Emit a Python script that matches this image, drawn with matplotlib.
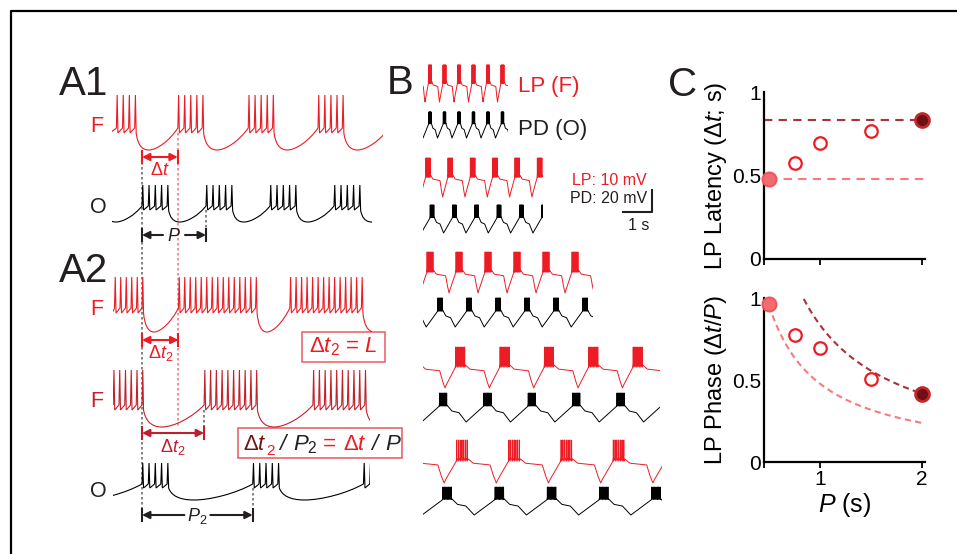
import numpy as np
import matplotlib
matplotlib.use('Agg')
import matplotlib.pyplot as plt
from matplotlib.path import Path
from matplotlib.patches import PathPatch, Rectangle

plt.rcParams['font.family'] = ['Liberation Sans', 'DejaVu Sans']
plt.rcParams['mathtext.fontset'] = 'custom'
plt.rcParams['mathtext.rm'] = 'Liberation Sans'
plt.rcParams['mathtext.it'] = 'Liberation Sans:italic'
plt.rcParams['mathtext.bf'] = 'Liberation Sans:bold'

RED = '#ED1C24'
RED2 = '#C4202A'
MAROON = '#701418'
INK = '#231F20'
GREY = '#6D6E71'
PINK = '#F47C80'

# ---------------- A: schematic bursts, times in s from the first O burst
A_ISI = {'F1': 0.095, 'O': 0.098, 'F2a': 0.086, 'F2b': 0.090}
A1_F_onsets = [-0.40, 0.56, 1.66, 2.75, 3.86]
A1_F_nspk = [4, 5, 5, 5, 5]
A1_O_onsets = [-1.0, 0.0, 1.0, 2.0, 3.0, 4.0]
A1_O_nspk = [5, 5, 5, 5, 5, 5]
A2_Fa_onsets = [-0.43, 0.57, 2.31, 4.05]
A2_Fa_nspk = [6, 15, 14, 14]
A2_Fb_onsets = [-0.45, 0.97, 2.67, 4.40]
A2_Fb_nspk = [6, 10, 10, 10]
A2_O_onsets = [-1.73, 0.0, 1.73, 3.46]
A2_O_nspk = [5, 5, 5, 5]

# ---------------- B: recorded LP / PD pairs at five periods
B_period = [0.5, 0.77, 1.0, 1.53, 1.8]
B_dur = [2.93, 4.14, 5.86, 8.17, 8.24]
B_lp_peak = [0.24, 0.17, 0.24, 1.28, 1.34]
B_pd_peak = [0.24, 0.31, 0.59, 0.69, 0.83]

# ---------------- C: LP latency and phase vs period
P_vals = [0.5, 0.75, 1.0, 1.5, 2.0]
latency = [0.48, 0.58, 0.70, 0.77, 0.84]
phase = [0.97, 0.78, 0.70, 0.51, 0.42]

fig = plt.figure(figsize=(9.57, 5.54), dpi=100)
ov = fig.add_axes([0, 0, 1, 1])
ov.set_xlim(0, 957)
ov.set_ylim(554, 0)
ov.axis('off')

# frame lines (top and left)
ov.plot([11, 11, 957], [554, 11, 11], color='black', lw=1.6, clip_on=False)

A_X0, A_PX = 142, 64.0


def ax_t(t):
    return A_X0 + A_PX * np.asarray(t)


def burst_path(onsets, nspk, isi, t0, rise, top, dip, w=0.012):
    verts, codes = [], []
    if t0 < onsets[0]:
        verts += [(t0, rise * 0.3), (onsets[0], rise)]
        codes += [Path.MOVETO, Path.LINETO]
    else:
        verts.append((onsets[0], rise))
        codes.append(Path.MOVETO)
    for i, (o, n) in enumerate(zip(onsets, nspk)):
        for j in range(n):
            ts = o + j * isi
            if j > 0:
                verts.append((ts, rise))
                codes.append(Path.LINETO)
            verts += [(ts + w, top), (ts + 2 * w, 0)]
            codes += [Path.LINETO, Path.LINETO]
        if i + 1 < len(onsets):
            a = o + (n - 1) * isi + 2 * w
            b = onsets[i + 1]
            g = b - a
            verts += [(a + 0.03 * g, -0.6 * dip), (a + 0.12 * g, -dip), (a + 0.3 * g, -dip),
                      (a + 0.5 * g, -dip), (a + 0.8 * g, -0.45 * dip), (b, rise)]
            codes += [Path.CURVE4] * 6
    return verts, codes


def draw_burst(onsets, nspk, isi, t0, t1, y_valley, top, dip, color, rise=5):
    verts, codes = burst_path(onsets, nspk, isi, t0, rise, top, dip)
    v = np.array(verts)
    px = np.column_stack([ax_t(v[:, 0]), y_valley - v[:, 1]])
    patch = PathPatch(Path(px, codes), fill=False, edgecolor=color, lw=0.8, zorder=3)
    ov.add_patch(patch)
    clip = Rectangle((ax_t(t0), 0), ax_t(t1) - ax_t(t0), 554, transform=ov.transData)
    patch.set_clip_path(clip)


# guide lines (dotted)
dots = dict(lw=1.2, ls=(0, (1.5, 1.5)), zorder=1)
ov.plot([ax_t(0)] * 2, [152, 517], color=GREY, **dots)
ov.plot([ax_t(A1_F_onsets[1])] * 2, [133, 427], color=PINK, **dots)
ov.plot([ax_t(A1_O_onsets[2])] * 2, [210, 237], color=GREY, **dots)
ov.plot([ax_t(A2_Fb_onsets[1])] * 2, [410, 434], color=GREY, **dots)
ov.plot([ax_t(A2_O_onsets[2])] * 2, [488, 517], color=GREY, **dots)

draw_burst(A1_F_onsets, A1_F_nspk, A_ISI['F1'], -0.47, 3.77, 133, 38, 17, RED)
draw_burst(A1_O_onsets, A1_O_nspk, A_ISI['O'], -0.47, 3.60, 210, 25, 12, 'black', rise=4)
draw_burst(A2_Fa_onsets, A2_Fa_nspk, A_ISI['F2a'], -0.45, 3.60, 313, 36, 19, RED)
draw_burst(A2_Fb_onsets, A2_Fb_nspk, A_ISI['F2b'], -0.45, 3.57, 410, 40, 17, RED2)
draw_burst(A2_O_onsets, A2_O_nspk, A_ISI['O'], -0.45, 3.57, 488, 25, 12, 'black', rise=4)


def span_arrow(t_a, t_b, y, color, label, ly, size=13, gap=None):
    xa, xb = ax_t(t_a), ax_t(t_b)
    ov.plot([xa, xa], [y - 6, y + 6], color=color, lw=1.5)
    ov.plot([xb, xb], [y - 6, y + 6], color=color, lw=1.5)
    kw = dict(arrowstyle='-|>', color=color, lw=1.5, shrinkA=0, shrinkB=0, mutation_scale=11)
    xm = (xa + xb) / 2
    if gap is None:
        ov.annotate('', xy=(xb, y), xytext=(xa, y),
                    arrowprops=dict(kw, arrowstyle='<|-|>'))
    else:
        ov.annotate('', xy=(xa, y), xytext=(xm - gap, y), arrowprops=kw)
        ov.annotate('', xy=(xb, y), xytext=(xm + gap, y), arrowprops=kw)
    ov.text(xm, ly, label, color=color, fontsize=size, ha='center', va='baseline')


span_arrow(0, A1_F_onsets[1], 157, RED, r'$\mathit{Δt}$', 175)
span_arrow(0, A1_O_onsets[2], 235, INK, r'$\mathit{P}$', 241, gap=11)
span_arrow(0, A2_Fa_onsets[1], 340, RED, r'$\mathit{Δt}_2$', 358)
span_arrow(0, A2_Fb_onsets[1], 433, '#BE1E2D', r'$\mathit{Δt}_2$', 452)
span_arrow(0, A2_O_onsets[2], 515, INK, r'$\mathit{P}_2$', 521, gap=13)

# panel letters and trace names
for s, x, y in [('A1', 59, 95), ('A2', 59, 282), ('B', 387, 94), ('C', 668, 96)]:
    ov.text(x, y, s, fontsize=29, color=INK, va='baseline', ha='left')
for s, y, c in [('F', 132, RED), ('O', 213, INK), ('F', 315, RED), ('F', 407, RED2), ('O', 497, INK)]:
    ov.text(90, y, s, fontsize=15.5, color=c, va='baseline', ha='left')

# boxed relations
ov.add_patch(Rectangle((302, 332), 83, 30, fill=False, ec='#EF5960', lw=1.1))
ov.text(343, 352, r'$\mathit{Δt}_2$ = $\mathit{L}$', color=RED, fontsize=16,
        ha='center', va='baseline')
ov.add_patch(Rectangle((238, 428), 164, 30, fill=False, ec='#E4575D', lw=1.1))

fig.canvas.draw()
rend = fig.canvas.get_renderer()
x = 243
head = ov.text(x, 450, r'$\mathit{Δt}$', color=MAROON, fontsize=16, va='baseline', ha='left')
x += head.get_window_extent(rend).width - 1
sub = ov.text(x, 455, '2', color=RED, fontsize=11, va='baseline', ha='left')
x += sub.get_window_extent(rend).width
pieces = [(' / ', INK), (r'$\mathit{P}_2$', INK), (' = ', RED),
          (r'$\mathit{Δt}$', RED), (' / ', INK), (r'$\mathit{P}$', INK)]
for s, c in pieces:
    t = ov.text(x, 450, s, color=c, fontsize=16, va='baseline', ha='left',
                style='italic' if s.strip() == '/' else 'normal')
    x += t.get_window_extent(rend).width

# ---------------- B traces
B_X0, B_PX = 423, 29.0
B_lp_y = [(65, 102), (158, 197), (252, 293), (347, 388), (440, 483)]
B_pd_y = [(112, 138), (205, 233), (298, 327), (393, 422), (487, 515)]


def with_spikes(before, after, ph0, ph1, n, base, dw=0.002):
    pts = list(before)
    for ph in np.linspace(ph0, ph1, n):
        pts += [(ph, base + 0.03), (ph + dw, 1.0), (ph + 2 * dw, base - 0.05)]
    return pts + list(after)


LP_cycle = with_spikes([(-0.34, 0.0), (-0.31, 0.08), (-0.11, 0.50)],
                       [(0.12, 0.56), (0.22, 0.46), (0.54, 0.42), (0.61, 0.15)],
                       -0.10, 0.10, 7, 0.56)
PD_cycle = with_spikes([(-0.48, 0.0), (-0.09, 0.54)],
                       [(0.09, 0.58), (0.2, 0.38), (0.36, 0.32)],
                       -0.08, 0.08, 7, 0.6)


def draw_cycles(t_peak, period, dur, cycle, ylim_px, color):
    k0 = int(np.floor(-t_peak / period)) - 1
    k1 = int(np.ceil((dur - t_peak) / period)) + 1
    pts = np.array([(t_peak + (k + ph) * period, lv) for k in range(k0, k1 + 1) for ph, lv in cycle])
    top, bot = ylim_px
    line, = ov.plot(B_X0 + B_PX * pts[:, 0], bot - pts[:, 1] * (bot - top), color=color, lw=0.7)
    line.set_clip_path(Rectangle((B_X0, 0), B_PX * dur, 554, transform=ov.transData))


for i in range(5):
    draw_cycles(B_lp_peak[i], B_period[i], B_dur[i], LP_cycle, B_lp_y[i], RED)
    draw_cycles(B_pd_peak[i], B_period[i], B_dur[i], PD_cycle, B_pd_y[i], 'black')

ov.text(518, 92, 'LP (F)', color=RED, fontsize=16, va='baseline')
ov.text(518, 135, 'PD (O)', color=INK, fontsize=16, va='baseline')
ov.text(647, 185, 'LP: 10 mV', color=RED, fontsize=11.5, va='baseline', ha='right')
ov.text(647, 203, 'PD: 20 mV', color=INK, fontsize=11.5, va='baseline', ha='right')
ov.text(639, 230, '1 s', color=INK, fontsize=11.5, va='baseline', ha='center')
ov.plot([652 - B_PX, 652, 652], [212, 212, 190], color=INK, lw=1.5)

# ---------------- C plots
lat_col, dark_col = '#F47C80', '#A8343A'
axL = fig.add_axes([764 / 957, (554 - 259) / 554, 161 / 957, 167 / 554])
axF = fig.add_axes([764 / 957, (554 - 462) / 554, 161 / 957, 164 / 554])
x_left, x_right = 0.45, 2.03
for a in (axL, axF):
    a.set_facecolor('none')
    for s in ('top', 'right'):
        a.spines[s].set_visible(False)
    for s in ('left', 'bottom'):
        a.spines[s].set_linewidth(1.6)
    a.set_xlim(x_left, x_right)
    a.set_ylim(0, 1.006)
    a.set_xticks([x_left, 1, 2])
    a.set_yticks([0, 0.5, 1])
    a.set_yticklabels(['0', '0.5', '1'])
    a.tick_params(axis='y', length=0, pad=2, labelsize=15)
    a.tick_params(axis='x', length=4, width=1.3, pad=2, labelsize=15)

axL.set_xticklabels(['', '', ''])
axF.set_xticklabels(['', '1', '2'])

axL.plot([P_vals[0], x_right], [latency[0]] * 2, color=lat_col, lw=1.5, ls=(0, (4, 3)))
axL.plot([x_left, P_vals[-1]], [latency[-1]] * 2, color=dark_col, lw=1.5, ls=(0, (4, 3)))

p_lo = np.linspace(P_vals[0], x_right, 80)
p_hi = np.linspace(latency[-1] / 1.0, P_vals[-1], 80)
axF.plot(p_lo, latency[0] / p_lo, color=lat_col, lw=1.5, ls=(0, (3, 2)))
axF.plot(p_hi, latency[-1] / p_hi, color=dark_col, lw=1.5, ls=(0, (3, 2)))

for a, vals in ((axL, latency), (axF, phase)):
    a.plot(P_vals[1:4], vals[1:4], 'o', mfc='white', mec=RED, ms=9, mew=1.6, clip_on=False, zorder=4)
    a.plot(P_vals[0], vals[0], 'o', mfc='#F26D72', mec='#F2545B', ms=10, mew=1.5, clip_on=False, zorder=4)
    a.plot(P_vals[-1], vals[-1], 'o', mfc='#6E1014', mec='#C1272D', ms=10, mew=2, clip_on=False, zorder=4)

axL.set_ylabel(r'LP Latency ($\mathit{Δt}$; s)', fontsize=17, labelpad=2)
axF.set_ylabel(r'LP Phase ($\mathit{Δt/P}$)', fontsize=17, labelpad=2)
axF.set_xlabel(r'$\mathit{P}$ (s)', fontsize=18, labelpad=1)

fig.savefig('out.png', dpi=100)
